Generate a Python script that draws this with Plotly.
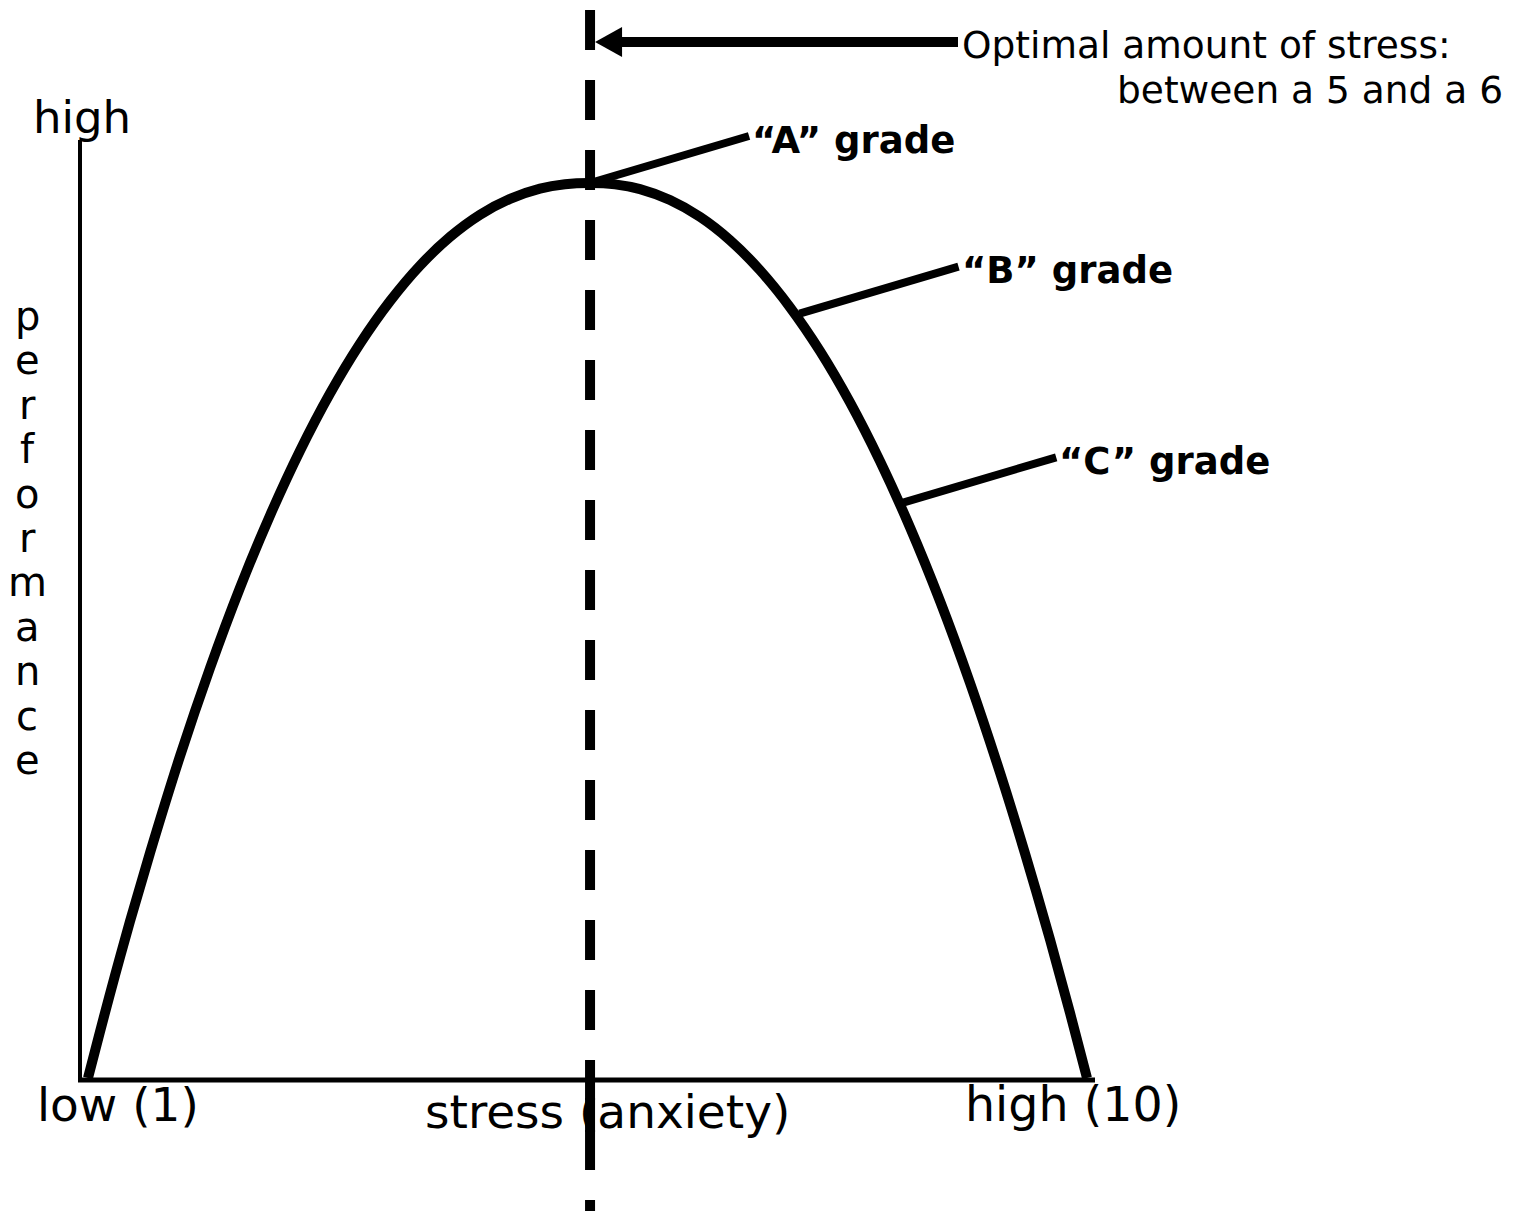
import plotly.graph_objects as go

# ---------------- data ----------------
STRESS = [1.000, 1.108, 1.243, 1.378, 1.559, 1.829, 2.099, 2.369, 2.640, 2.910,
          3.180, 3.450, 3.721, 3.991, 4.261, 4.532, 4.802, 5.072, 5.297, 5.523,
          5.748, 5.973, 6.243, 6.514, 6.784, 7.054, 7.324, 7.595, 7.865, 8.135,
          8.405, 8.676, 8.946, 9.216, 9.441, 9.667, 9.847, 10.000]
PERFORMANCE = [0.00, 5.18, 11.45, 17.49, 25.17, 35.96, 45.80, 54.77, 62.86, 70.09,
               76.48, 82.04, 86.80, 90.77, 93.98, 96.46, 98.23, 99.37, 99.86, 100.00,
               99.85, 99.32, 98.10, 96.21, 93.61, 90.25, 86.13, 81.22, 75.49, 68.93,
               61.54, 53.28, 44.15, 34.13, 25.11, 15.45, 7.27, 0.00]
OPTIMAL_STRESS = 5.523
GRADE_LABELS = ["\u201cA\u201d grade", "\u201cB\u201d grade", "\u201cC\u201d grade"]
GRADE_STRESS = [5.523, 7.41, 8.29]
GRADE_PERF = [100.0, 85.4, 64.1]
X_LABELS = ["low (1)", "stress (anxiety)", "high (10)"]
Y_TOP_LABEL = "high"
Y_TITLE = "performance"
OPTIMAL_NOTE = ["Optimal amount of stress:", "between a 5 and a 6"]

# ---------------- geometry helpers (screen pixels <-> data units) ----------------
PAGE_X0, PAGE_Y0 = 8, 8          # body margin of the html page
W, H = 1510, 1203
ORIGIN_X, PX_PER_S = 88.0, 111.0
ORIGIN_Y, PX_PER_P = 1078.0, 8.95


def sx(px):
    return 1 + (px - ORIGIN_X) / PX_PER_S


def py(pix):
    return (ORIGIN_Y - pix) / PX_PER_P


def to_px(s):
    return ORIGIN_X + (s - 1) * PX_PER_S


def to_py(p):
    return ORIGIN_Y - p * PX_PER_P


FONT = "DejaVu Sans, Verdana, sans-serif"

fig = go.Figure()
fig.add_trace(go.Scatter(x=STRESS, y=PERFORMANCE, mode="lines",
                         line=dict(color="black", width=10, shape="spline", smoothing=1.0),
                         hoverinfo="skip", showlegend=False))

shapes = []
# axes
shapes.append(dict(type="line", xref="x", yref="y", x0=sx(80), x1=sx(80), y0=py(140), y1=py(1082),
                   line=dict(color="black", width=4)))
shapes.append(dict(type="line", xref="x", yref="y", x0=sx(78), x1=sx(1095), y0=py(1080), y1=py(1080),
                   line=dict(color="black", width=5)))
# dashed optimal line
shapes.append(dict(type="line", xref="x", yref="y", x0=OPTIMAL_STRESS, x1=OPTIMAL_STRESS,
                   y0=py(10), y1=py(1250), line=dict(color="black", width=10, dash="40px,30px")))
shapes.append(dict(type="line", xref="x", yref="y", x0=OPTIMAL_STRESS, x1=OPTIMAL_STRESS,
                   y0=py(1098), y1=py(1132), line=dict(color="black", width=10)))
# arrow to optimal line
opt_px = to_px(OPTIMAL_STRESS)
shapes.append(dict(type="line", xref="x", yref="y", x0=sx(958), x1=sx(opt_px + 28), y0=py(42), y1=py(42),
                   line=dict(color="black", width=10)))
tip = opt_px + 5
shapes.append(dict(type="path", xref="x", yref="y",
                   path=f"M {sx(tip)},{py(42)} L {sx(tip + 27)},{py(27)} L {sx(tip + 27)},{py(57)} Z",
                   fillcolor="black", line=dict(color="black", width=0)))
# grade leader lines
DX_PX, DY_PX = 159, -47
annotations = []
for lab, gs, gp in zip(GRADE_LABELS, GRADE_STRESS, GRADE_PERF):
    x0p, y0p = to_px(gs), to_py(gp)
    x1p, y1p = x0p + DX_PX, y0p + DY_PX
    shapes.append(dict(type="line", xref="x", yref="y", x0=gs, y0=gp, x1=sx(x1p), y1=py(y1p),
                       line=dict(color="black", width=8)))
    annotations.append(dict(x=sx(x1p + 1), y=py(y1p + 4), xref="x", yref="y", text=f"<b>{lab}</b>",
                            showarrow=False, xanchor="left", yanchor="middle",
                            font=dict(family=FONT, size=37, color="black")))


# texts
def txt(text, xp, yp, size, xanchor="left"):
    annotations.append(dict(x=sx(xp), y=py(yp), xref="x", yref="y", text=text, showarrow=False,
                            xanchor=xanchor, yanchor="middle",
                            font=dict(family=FONT, size=size, color="black")))


txt(OPTIMAL_NOTE[0], 960, 45, 37.5)
txt(OPTIMAL_NOTE[1], 1505, 90, 37.5, xanchor="right")
txt(Y_TOP_LABEL, 31, 117, 45)
txt(X_LABELS[0], 35, 1104, 47)
txt(X_LABELS[1], 423, 1111, 47)
txt(X_LABELS[2], 963, 1104, 47.5)
for i, ch in enumerate(Y_TITLE):
    txt(ch, 27, 316 + i * 44.4, 40, xanchor="center")

fig.update_layout(
    width=W, height=H, autosize=False,
    margin=dict(l=0, r=0, t=0, b=0, pad=0),
    paper_bgcolor="white", plot_bgcolor="white",
    xaxis=dict(range=[sx(PAGE_X0), sx(PAGE_X0 + W)], visible=False, fixedrange=True),
    yaxis=dict(range=[py(PAGE_Y0 + H), py(PAGE_Y0)], visible=False, fixedrange=True),
    shapes=shapes, annotations=annotations, showlegend=False,
)
fig.write_html("out.html")
